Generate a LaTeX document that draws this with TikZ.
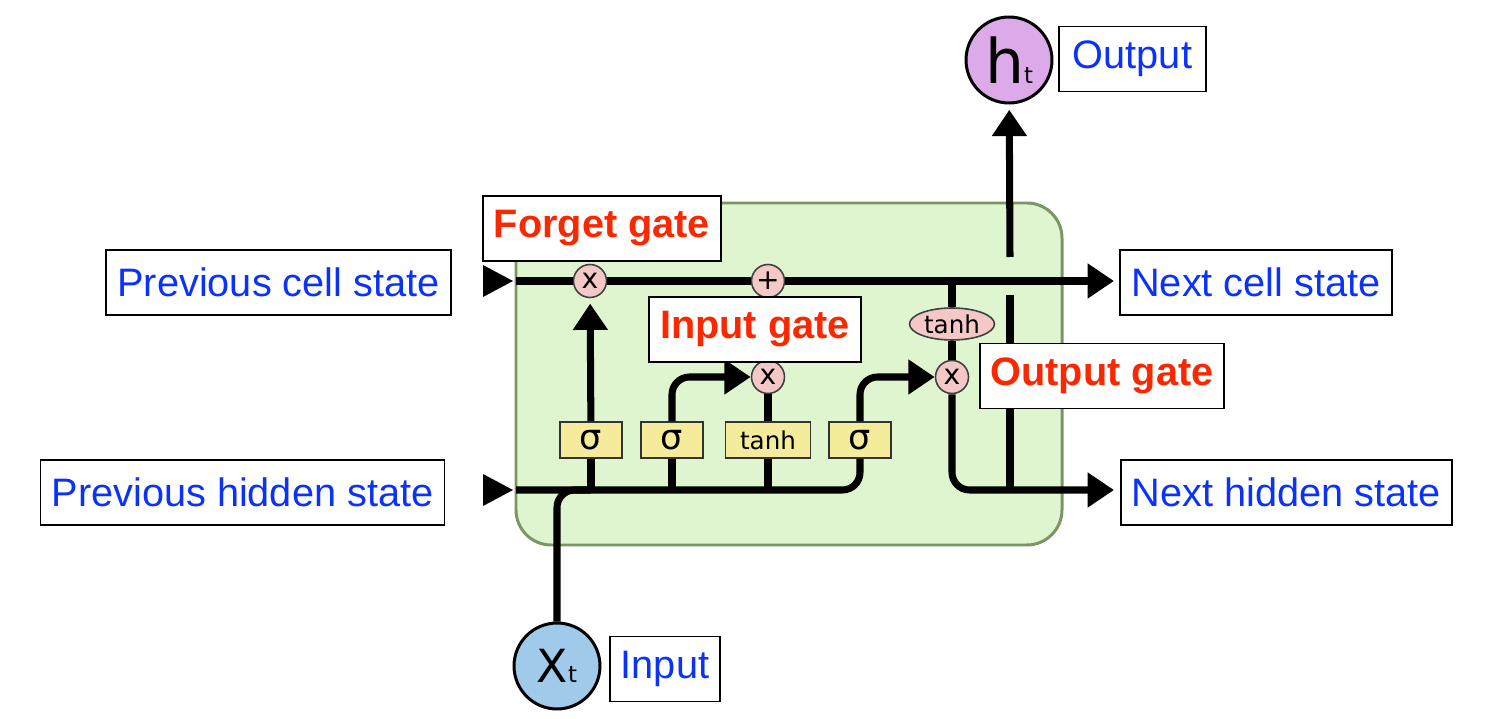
\documentclass[tikz,border=0pt]{standalone}
\usepackage{fontspec}
\setmainfont{Liberation Sans}
\newfontfamily\gatefont{DejaVu Sans}
\usepackage{tikz}
\usetikzlibrary{arrows.meta, shapes.geometric}
\definecolor{tagblue}{RGB}{10,50,250}
\definecolor{gatered}{RGB}{250,40,0}
\definecolor{cellgreen}{RGB}{223,245,208}
\definecolor{celledge}{RGB}{122,150,100}
\definecolor{oppink}{RGB}{245,200,200}
\definecolor{layeryellow}{RGB}{245,236,155}
\definecolor{inblue}{RGB}{160,202,234}
\definecolor{outpurple}{RGB}{220,170,232}
\newcommand{\sig}{{\fontsize{20}{20}\selectfont σ}}

\begin{document}
\begin{tikzpicture}
  [
    x=0.02cm, y=-0.02cm,
    flow/.style={line width=4pt},
    arrowed/.style={-{Triangle[length=15pt,width=19pt]}},
    tag/.style={draw,line width=1.1pt,fill=white,text=tagblue,inner xsep=6.3pt,
      minimum height=1.3cm,font=\fontsize{22.6}{26}\selectfont},
    gatetag/.style={tag,text=gatered,font=\bfseries\fontsize{22.6}{26}\selectfont},
    op/.style={circle,draw=black!75,line width=0.9pt,fill=oppink,minimum size=0.66cm,
      inner sep=0pt,font=\gatefont\fontsize{16}{16}\selectfont},
    layer/.style={draw=black!80,line width=0.9pt,fill=layeryellow,minimum height=0.72cm,
      inner sep=0pt,font=\gatefont\fontsize{14}{14}\selectfont},
    io/.style={circle,draw=black,line width=1.7pt,minimum size=1.72cm,inner sep=0pt,font=\gatefont}
  ]
  \useasboundingbox (0,0) rectangle (1495,719);
  % cell body
  \draw [fill=cellgreen,draw=celledge,line width=1.7pt,rounded corners=20pt] (516,203) rectangle (1062,545);
  \fill (483,265) -- (513,281) -- (483,297) -- cycle;
  \fill (483,474) -- (513,490) -- (483,506) -- cycle;
  \coordinate (cin) at (516,281);
  \coordinate (hin) at (516,490);
  \coordinate (cout) at (1114,281);
  \coordinate (hout) at (1114,490);
  \coordinate (gapb) at (1010,295);
  \coordinate (gapt) at (1010,257);
  % pointwise ops
  \node[op] (fx) at (590,281) {x};
  \node[op] (plus) at (768,281) {+};
  \node[op] (ix) at (768,377) {x};
  \node[op] (ox) at (952,377) {x};
  \node[op,ellipse,minimum width=1.7cm,minimum height=0.64cm,font=\gatefont\fontsize{14}{14}\selectfont] (tanhc) at (952,324) {tanh};
  % layers
  \foreach \n/\x/\w/\t in {s1/591/1.24/\sig, s2/672/1.24/\sig, th/768/1.7/tanh, s3/860/1.24/\sig} {
      \node[layer,minimum width=\w cm] (\n) at (\x,440) {\t};
  }
  % x_t and h_t
  \node[io,fill=inblue] (xt) at (557,666) {{\fontsize{26}{26}\selectfont X}{\fontsize{13}{13}\selectfont t}};
  \node[io,fill=outpurple] (ht) at (1009,60) {{\fontsize{35}{35}\selectfont h}{\fontsize{13}{13}\selectfont t}};
  % cell state
  \draw[flow] (cin) -- (fx);
  \draw[flow] (fx) -- (plus);
  \draw[flow,arrowed] (plus) -- (cout);
  % hidden state in
  \draw[flow,rounded corners=10pt] (hin) -- (s3 |- hin) -- (s3);
  \foreach \n in {s1,s2,th} {
      \draw[flow] (\n |- hin) -- (\n);
  }
  \draw[flow,rounded corners=10pt] (xt) |- (s1 |- hin);
  % gates
  \draw[flow,arrowed,shorten >=3pt] (s1) -- (fx);
  \draw[flow,arrowed,rounded corners=10pt] (s2) |- (ix);
  \draw[flow] (th) -- (ix);
  \draw[flow,arrowed] (ix) -- (plus);
  \draw[flow,arrowed,rounded corners=10pt] (s3) |- (ox);
  \draw[flow] (tanhc |- cin) -- (tanhc);
  \draw[flow] (tanhc) -- (ox);
  % hidden state out
  \draw[flow,arrowed,rounded corners=10pt] (ox) |- (hout);
  \draw[flow] (gapb |- hout) -- (gapb);
  \draw[flow,arrowed,shorten >=3pt] (gapt) -- (ht);
  % labels
  \node[tag] (prevc) at (278.5,282.5) {Previous cell state};
  \node[tag] (prevh) at (242.5,492.5) {Previous hidden state};
  \node[tag] (nextc) at (1256,282.5) {Next cell state};
  \node[tag] (nexth) at (1286.5,492.5) {Next hidden state};
  \node[tag,minimum width=2.94cm] (outl) at (1132.5,59) {Output};
  \node[tag,minimum width=2.16cm] (inl) at (665,669) {Input};
  \node[gatetag] (forget) at (602,228.5) {Forget gate};
  \node[gatetag] (inputg) at (755,329.5) {Input gate};
  \node[gatetag] (outputg) at (1102,376) {Output gate};
\end{tikzpicture}
\end{document}
